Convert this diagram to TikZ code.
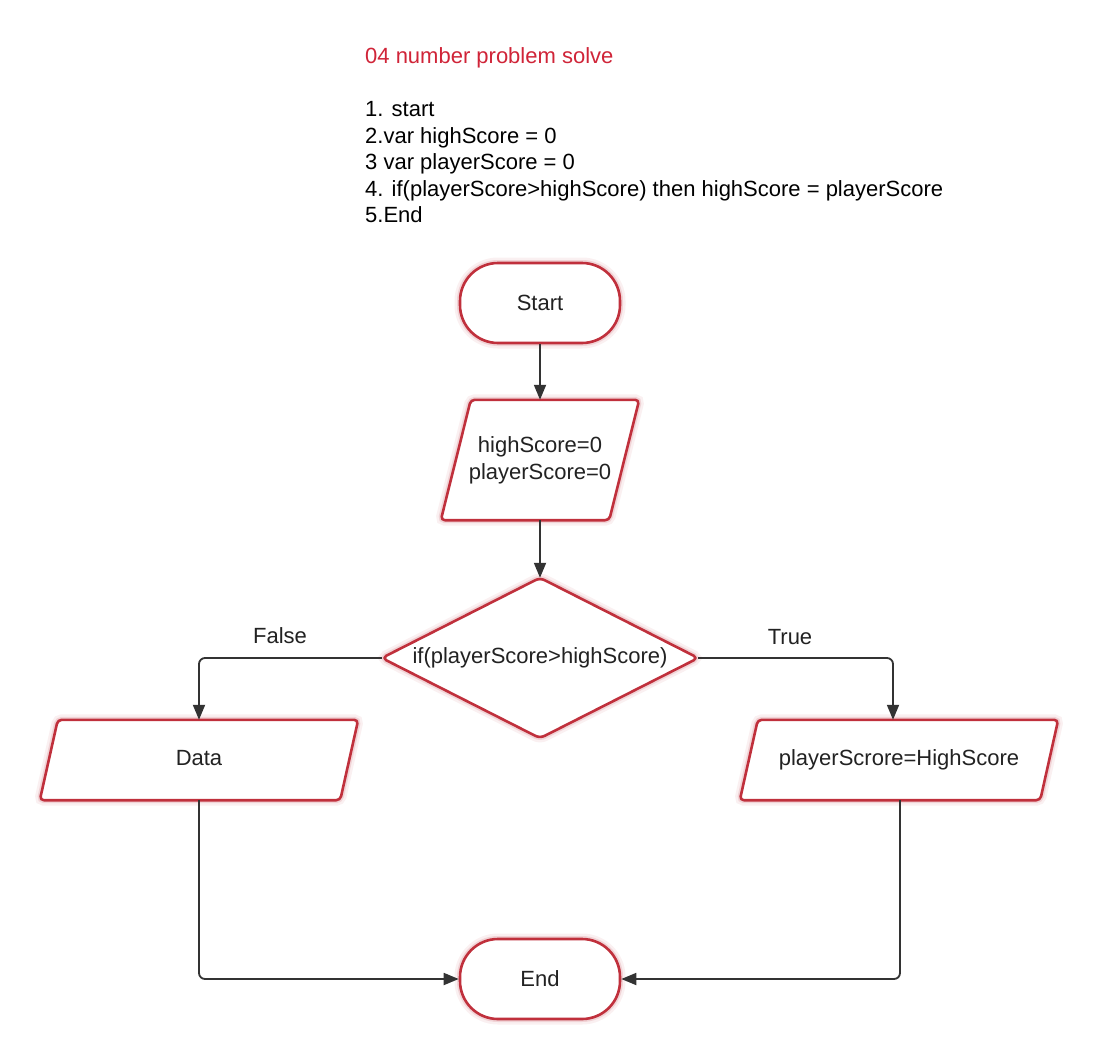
\documentclass[tikz,border=0pt]{standalone}
\usepackage{fontspec}
\setmainfont{Liberation Sans}
\usetikzlibrary{arrows.meta}
\definecolor{bord}{RGB}{192,48,60}
\definecolor{titlered}{RGB}{208,36,56}
\definecolor{txt}{RGB}{34,34,34}
\definecolor{lin}{RGB}{51,51,51}
\pgfdeclarelayer{background}
\pgfsetlayers{background,main}
\tikzset{
  glow/.style={preaction={draw=bord, line width=11pt, opacity=0.07},
               preaction={draw=bord, line width=6pt, opacity=0.14}},
  shapeline/.style={glow, draw=bord, line width=2.6pt, fill=white, line join=round},
  txtnode/.style={font=\fontsize{22}{27}\selectfont, text=txt, inner sep=0pt},
  box/.style={txtnode, align=center},
  hold/.style={box, text height=16pt, text depth=5pt},
  terminal/.style={shapeline, box, rounded corners=38pt, minimum width=160pt, minimum height=80pt},
  conn/.style={draw=lin, line width=1.8pt, rounded corners=6pt, -{Triangle[length=15pt,width=12pt]}},
  listtxt/.style={txtnode, anchor=base west, text=black},
}
\begin{document}
\begin{tikzpicture}[x=1pt,y=-1pt]
\begin{pgfonlayer}{background}
\fill[white] (0,0) rectangle (1100,1060);
\end{pgfonlayer}
\useasboundingbox (0,0) rectangle (1100,1060);

% heading text
\node[listtxt, text=titlered] (title) at (365,63) {04 number problem solve};
\node[listtxt] (l1) at (365,116.5) {1. start};
\node[listtxt] (l2) at (365,143) {2.var highScore = 0};
\node[listtxt] (l3) at (365,169.5) {3 var playerScore = 0};
\node[listtxt] (l4) at (365,196) {4. if(playerScore>highScore) then highScore = playerScore};
\node[listtxt] (l5) at (365,222.5) {5.End};

% nodes
\node[terminal] (start) at (540,303) {Start};
\node[box, minimum width=198pt, minimum height=120pt] (p1) at (540,460) {highScore=0\\playerScore=0};
\node[hold, minimum width=316pt, minimum height=160pt] (dec) at (540,658) {if(playerScore>highScore)};
\node[hold, minimum width=318pt, minimum height=80pt] (data) at (199,760) {Data};
\node[hold, minimum width=318pt, minimum height=80pt] (tr) at (899,760) {playerScrore=HighScore};
\node[terminal] (end) at (540,979) {End};

% labels
\node[txtnode, anchor=base] (lf) at (280,643) {False};
\node[txtnode, anchor=base] (lt) at (790,644) {True};

% shape outlines
\begin{pgfonlayer}{background}
\draw[shapeline, rounded corners=4pt] ([xshift=30pt]p1.north west) -- (p1.north east)
   -- ([xshift=-30pt]p1.south east) -- (p1.south west) -- cycle;
\draw[shapeline, rounded corners=5pt] (dec.north) -- (dec.east) -- (dec.south) -- (dec.west) -- cycle;
\draw[shapeline, rounded corners=4pt] ([xshift=18pt]data.north west) -- (data.north east)
   -- ([xshift=-18pt]data.south east) -- (data.south west) -- cycle;
\draw[shapeline, rounded corners=4pt] ([xshift=18pt]tr.north west) -- (tr.north east)
   -- ([xshift=-18pt]tr.south east) -- (tr.south west) -- cycle;
\end{pgfonlayer}

% connectors
\draw[conn] (start.south) -- (p1.north);
\draw[conn] (p1.south) -- (dec.north);
\draw[conn] (dec.west) -| (data.north);
\draw[conn] (dec.east) -| ([xshift=-6pt]tr.north);
\draw[conn] (data.south) |- (end.west);
\draw[conn] ([xshift=1pt]tr.south) |- (end.east);
\end{tikzpicture}
\end{document}
